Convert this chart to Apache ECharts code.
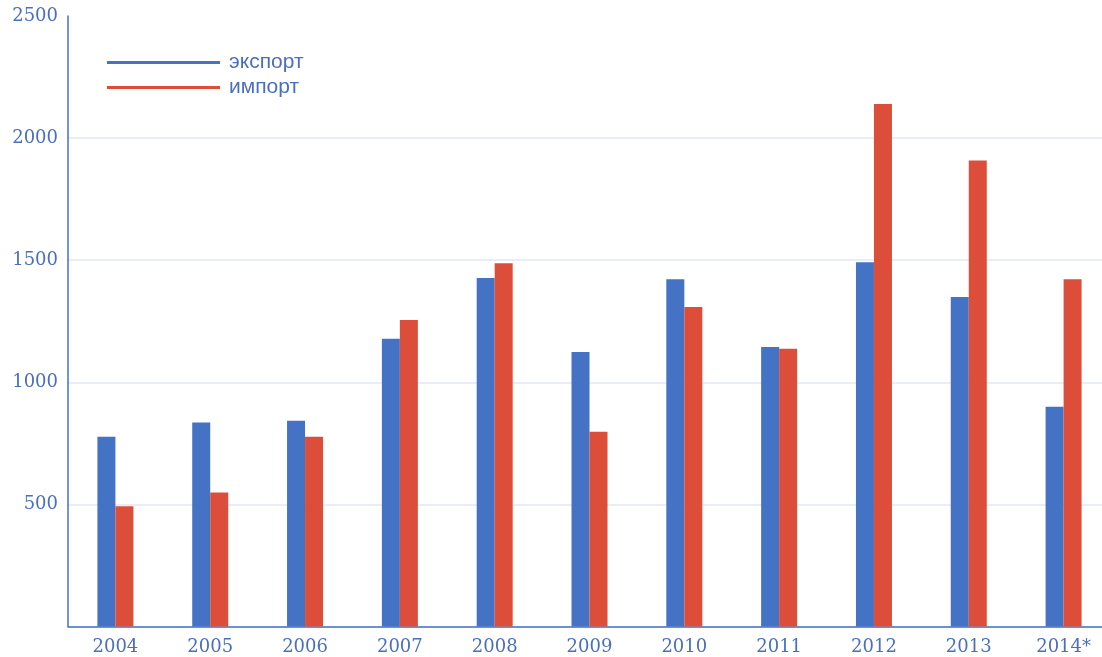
<!DOCTYPE html>
<html><head><meta charset="utf-8">
<script src="https://cdn.jsdelivr.net/npm/echarts@6/dist/echarts.min.js"></script>
<style>html,body{margin:0;padding:0;background:#fff}#c{width:1102px;height:657px}</style>
</head><body><div id="c"></div>
<script>
const categories = ['2004','2005','2006','2007','2008','2009','2010','2011','2012','2013','2014*'];
const exportValues = [777, 835, 843, 1178, 1427, 1124, 1422, 1145, 1492, 1349, 900];
const importValues = [492, 549, 777, 1255, 1488, 798, 1308, 1137, 2140, 1908, 1422];
const seriesNames = ['экспорт', 'импорт'];
const blue = '#4472c4', red = '#dd4e3a', txt = '#4a6fbf', grid = '#e2e7f3';
const chart = echarts.init(document.getElementById('c'));
chart.setOption({
  animation: false,
  grid: { left: 68, width: 1043, top: 16, bottom: 30.5, outerBoundsMode: 'none', containLabel: false },
  legend: {
    orient: 'vertical', left: 102, top: 47, itemGap: 4,
    itemWidth: 113, itemHeight: 3, icon: 'rect',
    textStyle: { fontFamily: 'Liberation Sans', fontSize: 21, color: txt, padding: [0,0,0,4] },
    data: seriesNames
  },
  xAxis: {
    type: 'category', data: categories,
    axisLine: { lineStyle: { color: blue, width: 1.5 } },
    axisTick: { show: false },
    axisLabel: { fontFamily: 'DejaVu Serif', fontSize: 18, color: txt, margin: 12 }
  },
  yAxis: {
    type: 'value', min: 0, max: 2500, interval: 500,
    axisLine: { show: true, lineStyle: { color: blue, width: 1.5 } },
    axisTick: { show: false },
    splitLine: { lineStyle: { color: [grid, grid, grid, grid, grid, 'rgba(0,0,0,0)'], width: 1.5 } },
    axisLabel: { fontFamily: 'DejaVu Serif', fontSize: 18, color: txt, margin: 10,
      formatter: v => v === 0 ? '' : String(v) }
  },
  series: [
    { name: seriesNames[0], type: 'bar', data: exportValues, barWidth: 18, barGap: '0%', itemStyle: { color: blue } },
    { name: seriesNames[1], type: 'bar', data: importValues, barWidth: 18, itemStyle: { color: red } }
  ]
});
</script></body></html>
